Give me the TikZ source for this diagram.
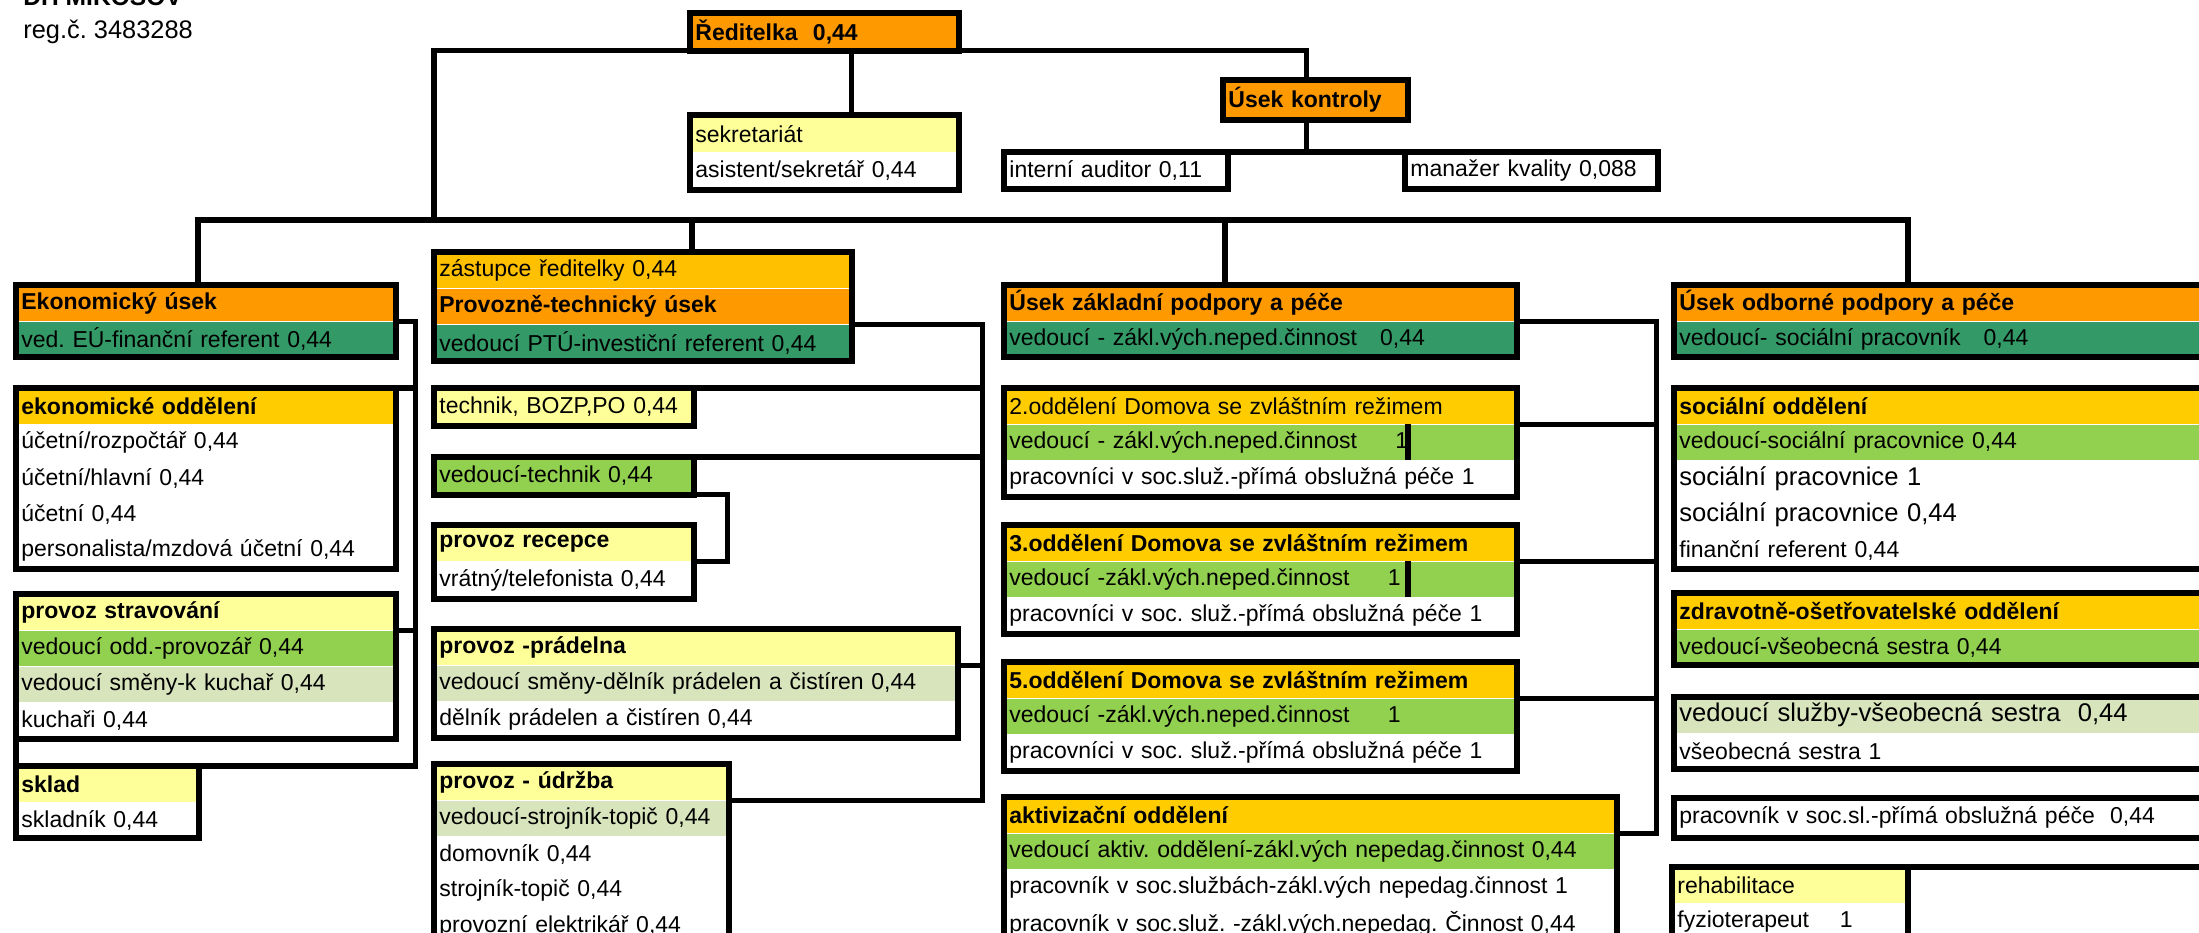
\documentclass[tikz,border=0pt]{standalone}
\usepackage{fontspec}
\setmainfont{Liberation Sans}
\usetikzlibrary{positioning}
\frenchspacing

\definecolor{oranz}{HTML}{FF9900}
\definecolor{tmzel}{HTML}{339966}
\definecolor{zlut}{HTML}{FFCC00}
\definecolor{zlut2}{HTML}{FFC000}
\definecolor{zel}{HTML}{92D050}
\definecolor{svzel}{HTML}{D8E4BC}
\definecolor{svzlut}{HTML}{FFFF99}

\tikzset{
  cell/.style={anchor=north west, inner xsep=2.5pt, inner ysep=0pt, minimum height=17.7pt,
    align=left, fill=white, font=\fontsize{11.5}{13}\selectfont},
  head/.style={cell, font=\fontsize{11.5}{13}\selectfont\bfseries},
  big/.style={cell, font=\fontsize{12.8}{14}\selectfont},
  frame/.style={line width=3pt},
  link/.style={line width=2.6pt, line cap=rect}
}

\begin{document}
\begin{tikzpicture}[x=0.5pt,y=-0.5pt]
\useasboundingbox (0,0) rectangle (2199,932);

\node[anchor=base west, inner sep=0pt, font=\fontsize{12.3}{14}\selectfont\bfseries] (nazev) at (23,5) {DH MIKOŠOV};
\node[anchor=base west, inner sep=0pt, font=\fontsize{12.7}{14}\selectfont] (reg) at (23,38) {reg.č. 3483288};

\node[head, fill=oranz, text width=129pt, minimum height=18.5pt] (redit) at (690,13) {Ředitelka~~0,44};
\node[cell, fill=svzlut, text width=129pt, minimum height=18.25pt] (sekr1) at (690,115) {sekretariát};
\node[cell, text width=129pt, minimum height=18.25pt, below=0pt of sekr1] (sekr2) {asistent/sekretář 0,44};
\node[head, fill=oranz, text width=87pt, minimum height=19.5pt] (kontrola) at (1223,80) {Úsek kontroly};
\node[cell, text width=106.5pt, minimum height=18pt] (auditor) at (1004,152) {interní auditor 0,11};
\node[cell, text width=121pt, minimum height=18pt] (kvalita) at (1405,152) {manažer kvality 0,088};

\node[head, fill=oranz, text width=184.5pt] (ekon1) at (16,285) {Ekonomický úsek};
\node[cell, fill=tmzel, text width=184.5pt, below=0pt of ekon1] (ekon2) {ved. EÚ-finanční referent 0,44};

\node[head, fill=zlut, text width=184.5pt] (ekodd1) at (16,388) {ekonomické oddělení};
\node[cell, text width=184.5pt, below=0pt of ekodd1] (ekodd2) {účetní/rozpočtář 0,44};
\node[cell, text width=184.5pt, below=0pt of ekodd2] (ekodd3) {účetní/hlavní 0,44};
\node[cell, text width=184.5pt, below=0pt of ekodd3] (ekodd4) {účetní 0,44};
\node[cell, text width=184.5pt, below=0pt of ekodd4] (ekodd5) {personalista/mzdová účetní 0,44};

\node[head, fill=svzlut, text width=184.5pt] (strav1) at (16,594) {provoz stravování};
\node[cell, fill=zel, text width=184.5pt, below=0pt of strav1] (strav2) {vedoucí odd.-provozář 0,44};
\node[cell, fill=svzel, text width=184.5pt, below=0pt of strav2] (strav3) {vedoucí směny-k kuchař 0,44};
\node[cell, text width=184.5pt, below=0pt of strav3] (strav4) {kuchaři 0,44};

\node[head, fill=svzlut, text width=86pt] (sklad1) at (16,766) {sklad};
\node[cell, text width=86pt, below=0pt of sklad1] (sklad2) {skladník 0,44};

\node[cell, fill=zlut2, text width=203.5pt] (ptu1) at (434,252) {zástupce ředitelky 0,44};
\node[head, fill=oranz, text width=203.5pt, below=0pt of ptu1] (ptu2) {Provozně-technický úsek};
\node[cell, fill=tmzel, text width=203.5pt, below=0pt of ptu2] (ptu3) {vedoucí PTÚ-investiční referent 0,44};

\node[cell, fill=svzlut, text width=124.5pt, minimum height=18.5pt] (technik) at (434,388) {technik, BOZP,PO 0,44};
\node[cell, fill=zel, text width=124.5pt, minimum height=18.5pt] (vedtech) at (434,457) {vedoucí-technik 0,44};

\node[head, fill=svzlut, text width=124.5pt, minimum height=18pt] (recepce1) at (434,525) {provoz recepce};
\node[cell, text width=124.5pt, minimum height=18pt, below=0pt of recepce1] (recepce2) {vrátný/telefonista 0,44};

\node[head, fill=svzlut, text width=256.5pt] (pradelna1) at (434,629) {provoz -prádelna};
\node[cell, fill=svzel, text width=256.5pt, below=0pt of pradelna1] (pradelna2) {vedoucí směny-dělník prádelen a čistíren 0,44};
\node[cell, text width=256.5pt, below=0pt of pradelna2] (pradelna3) {dělník prádelen a čistíren 0,44};

\node[head, fill=svzlut, text width=142pt] (udrzba1) at (434,764) {provoz - údržba};
\node[cell, fill=svzel, text width=142pt, below=0pt of udrzba1] (udrzba2) {vedoucí-strojník-topič 0,44};
\node[cell, text width=142pt, below=0pt of udrzba2] (udrzba3) {domovník 0,44};
\node[cell, text width=142pt, below=0pt of udrzba3] (udrzba4) {strojník-topič 0,44};
\node[cell, text width=142pt, below=0pt of udrzba4] (udrzba5) {provozní elektrikář 0,44};

\node[head, fill=oranz, text width=251pt] (zakl1) at (1004,285) {Úsek základní podpory a péče};
\node[cell, fill=tmzel, text width=251pt, below=0pt of zakl1] (zakl2) {vedoucí - zákl.vých.neped.činnost~~~0,44};

\node[cell, fill=zlut, text width=251pt] (odd2a) at (1004,388) {2.oddělení Domova se zvláštním režimem};
\node[cell, fill=zel, text width=251pt, below=0pt of odd2a] (odd2b) {vedoucí - zákl.vých.neped.činnost~~~~~1};
\node[cell, text width=251pt, below=0pt of odd2b] (odd2c) {pracovníci v soc.služ.-přímá obslužná péče 1};

\node[head, fill=zlut, text width=251pt] (odd3a) at (1004,525) {3.oddělení Domova se zvláštním režimem};
\node[cell, fill=zel, text width=251pt, below=0pt of odd3a] (odd3b) {vedoucí -zákl.vých.neped.činnost~~~~~1};
\node[cell, text width=251pt, below=0pt of odd3b] (odd3c) {pracovníci v soc. služ.-přímá obslužná péče 1};

\node[head, fill=zlut, text width=251pt] (odd5a) at (1004,662) {5.oddělení Domova se zvláštním režimem};
\node[cell, fill=zel, text width=251pt, below=0pt of odd5a] (odd5b) {vedoucí -zákl.vých.neped.činnost~~~~~1};
\node[cell, text width=251pt, below=0pt of odd5b] (odd5c) {pracovníci v soc. služ.-přímá obslužná péče 1};

\node[head, fill=zlut, text width=301pt] (aktiv1) at (1004,797) {aktivizační oddělení};
\node[cell, fill=zel, text width=301pt, below=0pt of aktiv1] (aktiv2) {vedoucí aktiv. oddělení-zákl.vých nepedag.činnost 0,44};
\node[cell, text width=301pt, below=0pt of aktiv2] (aktiv3) {pracovník v soc.službách-zákl.vých nepedag.činnost 1};
\node[cell, text width=301pt, below=0pt of aktiv3] (aktiv4) {pracovník v soc.služ. -zákl.vých.nepedag. Činnost 0,44};

\node[head, fill=oranz, text width=265.5pt] (odb1) at (1674,285) {Úsek odborné podpory a péče};
\node[cell, fill=tmzel, text width=265.5pt, below=0pt of odb1] (odb2) {vedoucí- sociální pracovník~~~0,44};

\node[head, fill=zlut, text width=265.5pt] (soc1) at (1674,388) {sociální oddělení};
\node[cell, fill=zel, text width=265.5pt, below=0pt of soc1] (soc2) {vedoucí-sociální pracovnice 0,44};
\node[big, text width=265.5pt, below=0pt of soc2] (soc3) {sociální pracovnice 1};
\node[big, text width=265.5pt, below=0pt of soc3] (soc4) {sociální pracovnice 0,44};
\node[cell, text width=265.5pt, below=0pt of soc4] (soc5) {finanční referent 0,44};

\node[head, fill=zlut, text width=265.5pt] (zdrav1) at (1674,593) {zdravotně-ošetřovatelské oddělení};
\node[cell, fill=zel, text width=265.5pt, below=0pt of zdrav1] (zdrav2) {vedoucí-všeobecná sestra 0,44};

\node[big, fill=svzel, text width=265.5pt] (sluzby1) at (1674,697) {vedoucí služby-všeobecná sestra~~0,44};
\node[cell, text width=265.5pt, below=0pt of sluzby1] (sluzby2) {všeobecná sestra 1};

\node[cell, text width=265.5pt, minimum height=19.5pt] (pracsl) at (1674,798) {pracovník v soc.sl.-přímá obslužná péče~~0,44};

\node[cell, fill=svzlut, text width=112.5pt] (rehab1) at (1672,867) {rehabilitace};
\node[cell, text width=112.5pt, below=0pt of rehab1] (rehab2) {fyzioterapeut~~~~1};

\draw[frame] (redit.north west) rectangle (redit.south east);
\draw[frame] (sekr1.north west) rectangle (sekr2.south east);
\draw[frame] (kontrola.north west) rectangle (kontrola.south east);
\draw[frame] (auditor.north west) rectangle (auditor.south east);
\draw[frame] (kvalita.north west) rectangle (kvalita.south east);
\draw[frame] (ekon1.north west) rectangle (ekon2.south east);
\draw[frame] (ekodd1.north west) rectangle (ekodd5.south east);
\draw[frame] (strav1.north west) rectangle (strav4.south east);
\draw[frame] (sklad1.north west) rectangle (sklad2.south east);
\draw[frame] (ptu1.north west) rectangle (ptu3.south east);
\draw[frame] (technik.north west) rectangle (technik.south east);
\draw[frame] (vedtech.north west) rectangle (vedtech.south east);
\draw[frame] (recepce1.north west) rectangle (recepce2.south east);
\draw[frame] (pradelna1.north west) rectangle (pradelna3.south east);
\draw[frame] (udrzba1.north west) rectangle (udrzba5.south east);
\draw[frame] (zakl1.north west) rectangle (zakl2.south east);
\draw[frame] (odd2a.north west) rectangle (odd2c.south east);
\draw[frame] (odd3a.north west) rectangle (odd3c.south east);
\draw[frame] (odd5a.north west) rectangle (odd5c.south east);
\draw[frame] (aktiv1.north west) rectangle (aktiv4.south east);
\draw[frame] (odb1.north west) rectangle (odb2.south east);
\draw[frame] (soc1.north west) rectangle (soc5.south east);
\draw[frame] (zdrav1.north west) rectangle (zdrav2.south east);
\draw[frame] (sluzby1.north west) rectangle (sluzby2.south east);
\draw[frame] (pracsl.north west) rectangle (pracsl.south east);
\draw[frame] (rehab1.north west) rectangle (rehab2.south east);
\draw[frame] (rehab1.north east) -- ++(160pt,0);
\draw[frame] ([xshift=202pt]odd2b.north west) -- ([xshift=202pt]odd2b.south west);
\draw[frame] ([xshift=202pt]odd3b.north west) -- ([xshift=202pt]odd3b.south west);

\coordinate (dM) at (434,220);
\coordinate (dE) at (198,220);
\coordinate (dP) at (692,220);
\coordinate (dZ) at (1225,220);
\coordinate (dO) at (1908,220);
\path (sklad1.north east) ++(108.5pt,0) coordinate (sE);
\path (udrzba1.south east) ++(127pt,0) coordinate (sP);
\path (aktiv1.south east) ++(20pt,0) coordinate (sZ);

\draw[link] ([xshift=-4.5pt]kontrola.north) |- (redit.south west) -| (dM);
\draw[link] ([xshift=13.5pt]redit.south) -- ([xshift=13.5pt]sekr1.north);
\draw[link] ([xshift=-4.5pt]kontrola.south) -- ([xshift=-4.5pt]kontrola.south |- auditor.north);
\draw[link] (auditor.north east) -- (kvalita.north west);

\draw[link] (dE) -- (dO);
\draw[link] (dE) -- (dE |- ekon1.north);
\draw[link] (dP) -- (dP |- ptu1.north);
\draw[link] (dZ) -- (dZ |- zakl1.north);
\draw[link] (dO) -- (dO |- odb1.north);

\draw[link] (ekon1.south east) -| (sE) -| (strav4.south west);
\draw[link] (ekodd1.north east) -- (ekodd1.north east -| sE);
\draw[link] (strav1.south east) -- (strav1.south east -| sE);

\draw[link] (ptu2.south east) -| (sP) -- (udrzba1.south east);
\draw[link] (technik.north east) -- (technik.north east -| sP);
\draw[link] (vedtech.north east) -- (vedtech.north east -| sP);
\draw[link] (pradelna1.south east) -- (pradelna1.south east -| sP);
\draw[link] (vedtech.south east) -- ++(17pt,0) |- (recepce1.south east);

\draw[link] (zakl1.south east) -| (sZ) -- (aktiv1.south east);
\draw[link] (odd2a.south east) -- (odd2a.south east -| sZ);
\draw[link] (odd3a.south east) -- (odd3a.south east -| sZ);
\draw[link] (odd5a.south east) -- (odd5a.south east -| sZ);
\end{tikzpicture}
\end{document}
